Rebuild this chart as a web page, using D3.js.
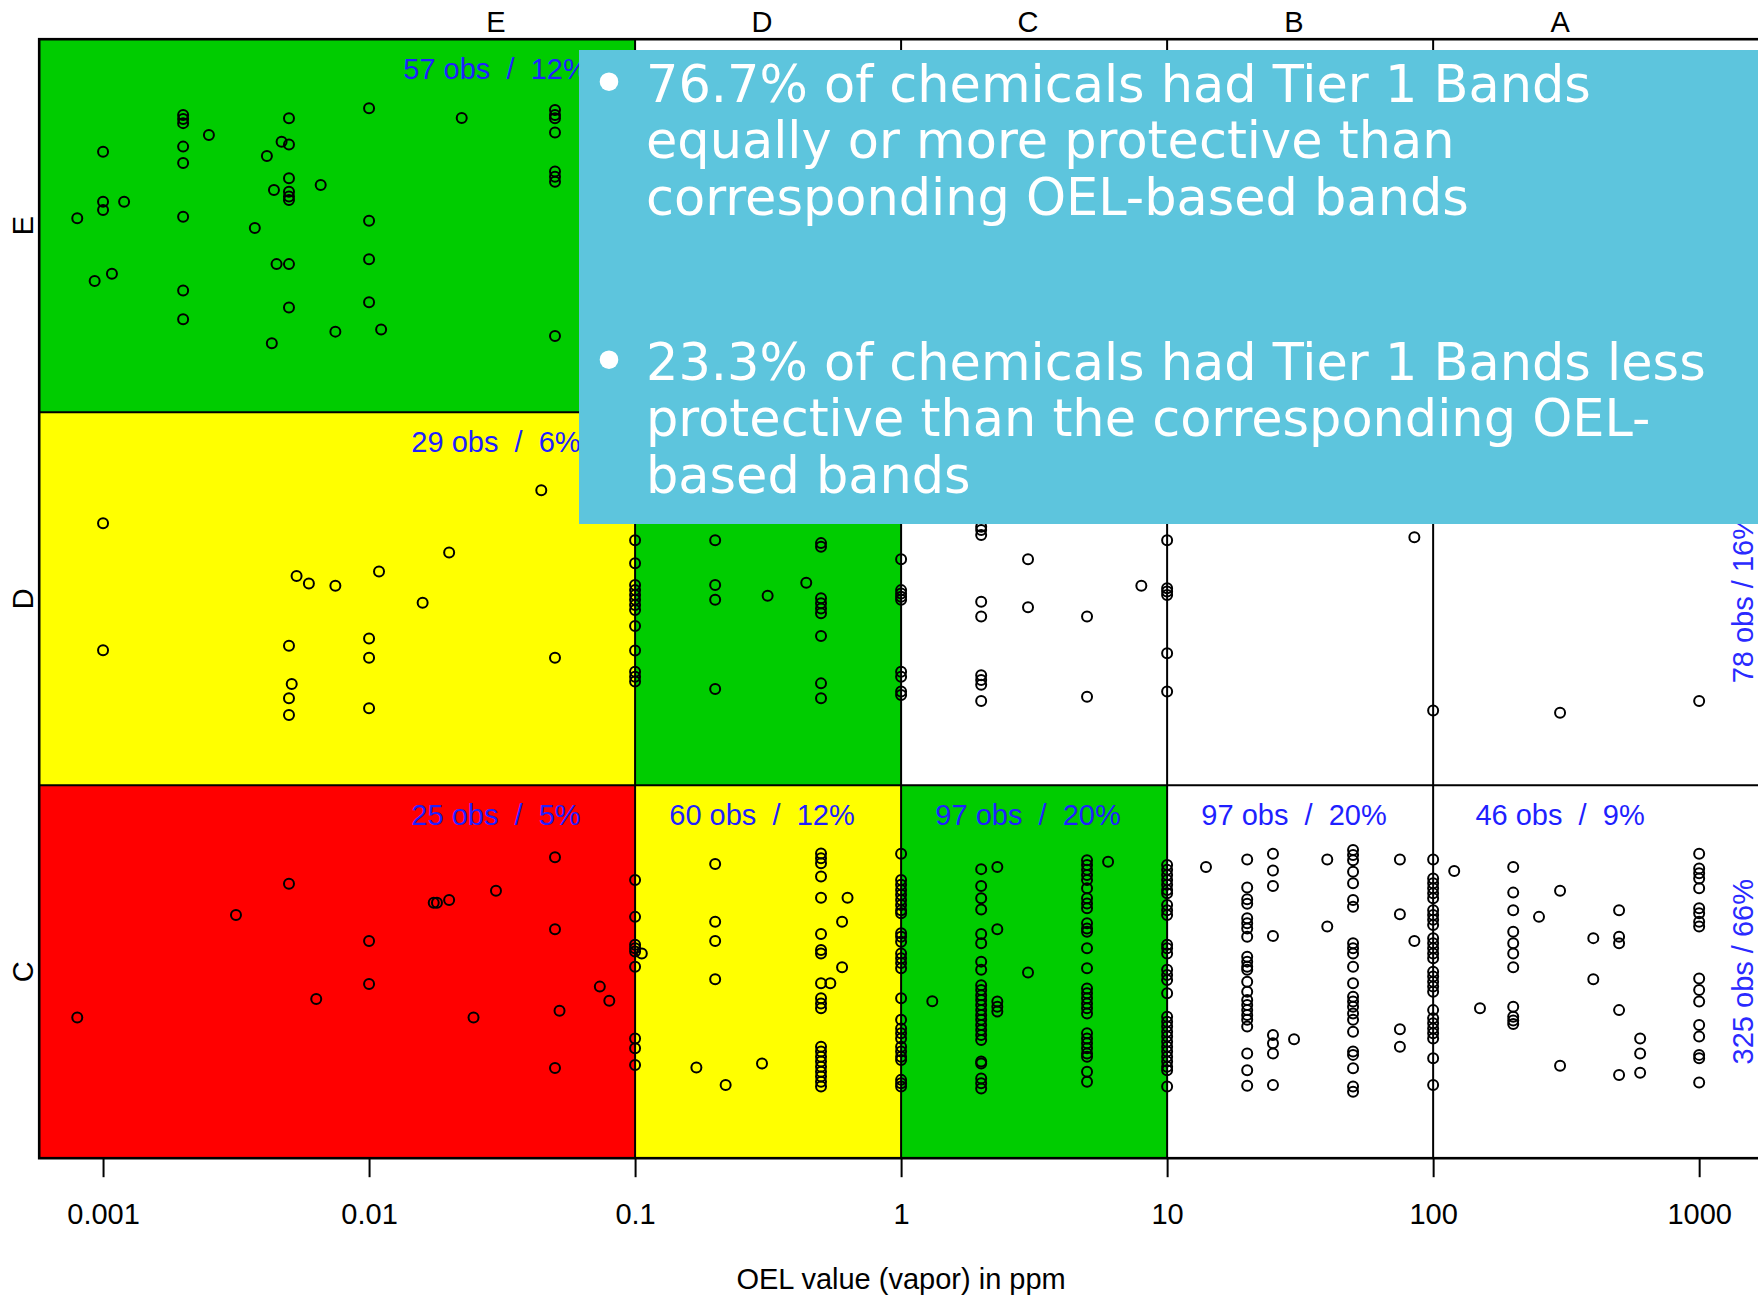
<!DOCTYPE html>
<html><head><meta charset="utf-8">
<script src="https://cdn.jsdelivr.net/npm/d3@7"></script>
<style>
html,body{margin:0;padding:0;background:#fff;overflow:hidden;}
svg{display:block;}
text{white-space:pre;}
</style></head><body>
<svg id="chart" width="1758" height="1297"></svg>
<script>
// ---------------- DATA ----------------
const oelBands = ["E","D","C","B","A"];            // column bands (OEL-based)
const bandLabelX = [0.03, 0.3, 3, 30, 300];        // where band letters sit on top axis
const bandBreaks = [0.1, 1, 10, 100];              // OEL band boundaries (ppm)
const tierBands = ["E","D","C"];                   // Tier 1 band rows (top to bottom)
const tierPos = [3, 2, 1];
const tickValues = [0.001, 0.01, 0.1, 1, 10, 100, 1000];
const tickLabels = ["0.001","0.01","0.1","1","10","100","1000"];
const xTitle = "OEL value (vapor) in ppm";

// cell counts: [tier, oelBand, n, pct]
const cellCounts = [["E","E",57,12],["D","E",29,6],["C","E",25,5],["C","D",60,12],["C","C",97,20],["C","B",97,20],["C","A",46,9]];
// row totals: [tier, n, pct]
const rowTotals = [["D",78,16],["C",325,66]];
const rowTotalX = 1600;

// points: [OEL value, [jittered Tier 1 band positions]]
const pointsE = [
 [0.0008,[3.020]],[0.001,[3.198,3.064,3.042]],[0.00093,[2.852]],[0.00108,[2.871]],[0.0012,[3.064]],
 [0.002,[3.297,3.286,3.275,3.212,3.168,3.024,2.826,2.749]],[0.0025,[3.243]],[0.00372,[2.994]],
 [0.00413,[3.187]],[0.00431,[2.685]],[0.00439,[3.096]],[0.00449,[2.897]],[0.00469,[3.225]],
 [0.005,[3.288,3.218,3.127,3.091,3.078,3.069,2.897,2.781]],[0.00658,[3.109]],[0.00747,[2.716]],
 [0.01,[3.315,3.013,2.910,2.795]],[0.0111,[2.722]],[0.0223,[3.289]],
 [0.05,[3.310,3.297,3.288,3.250,3.145,3.131,3.118,2.704]]
];
const pointsD = [
 [0.001,[2.202,1.862]],[0.005,[1.874,1.733,1.688]],[0.00512,[1.771]],[0.00534,[2.061]],[0.00594,[2.041]],
 [0.00747,[2.035]],[0.01,[1.893,1.842,1.706]],[0.0109,[2.073]],[0.0159,[1.989]],[0.02,[2.124]],
 [0.0444,[2.291]],[0.05,[1.842]],
 [0.1,[2.157,2.095,2.037,2.023,2.010,1.997,1.983,1.970,1.927,1.861,1.804,1.791,1.778]],
 [0.2,[2.157,2.037,1.997,1.758]],[0.315,[2.008]],[0.44,[2.043]],
 [0.5,[2.149,2.139,2.001,1.988,1.974,1.961,1.900,1.773,1.733]],
 [1,[2.106,2.023,2.014,2.005,1.997,1.804,1.791,1.751,1.742]],
 [2,[2.193,2.184,2.171,1.992,1.952,1.795,1.782,1.769,1.726]],
 [3,[2.106,1.977]],[5,[1.952,1.737]],[8,[2.035]],
 [10,[2.157,2.028,2.019,2.010,1.854,1.751]],
 [85,[2.165]],[100,[1.700]],[300,[1.694]],[1000,[1.726]]
];
const pointsC = [
 [0.0008,[0.877]],[0.00316,[1.152]],[0.005,[1.236]],[0.00633,[0.927]],[0.01,[1.082,0.967]],
 [0.0175,[1.185]],[0.018,[1.185]],[0.02,[1.192]],[0.0247,[0.877]],[0.03,[1.217]],
 [0.05,[1.307,1.114,0.742]],[0.052,[0.895]],[0.0737,[0.960]],[0.08,[0.922]],
 [0.1,[1.246,1.147,1.072,1.063,1.054,1.013,0.821,0.795,0.750]],[0.106,[1.049]],
 [0.17,[0.743]],[0.2,[1.289,1.134,1.082,0.980]],[0.219,[0.696]],[0.3,[0.754]],
 [0.5,[1.317,1.304,1.291,1.255,1.198,1.101,1.058,1.049,0.969,0.929,0.915,0.902,0.799,0.786,0.772,0.759,0.745,0.732,0.719,0.705,0.692]],
 [0.542,[0.969]],[0.6,[1.134,1.012]],[0.629,[1.198]],
 [1,[1.316,1.246,1.233,1.219,1.206,1.192,1.179,1.165,1.157,1.103,1.094,1.080,1.049,1.036,1.023,1.009,0.929,0.871,0.848,0.835,0.821,0.799,0.786,0.772,0.763,0.710,0.701,0.692]],
 [1.31,[0.921]],
 [2,[1.275,1.230,1.197,1.167,1.101,1.076,1.027,1.005,0.964,0.951,0.937,0.924,0.911,0.897,0.884,0.871,0.857,0.844,0.830,0.817,0.759,0.754,0.714,0.701,0.687]],
 [2.3,[1.281,1.114,0.920,0.906,0.893]],[3,[0.998]],
 [5,[1.299,1.286,1.273,1.259,1.246,1.224,1.197,1.183,1.170,1.130,1.116,1.107,1.063,1.009,0.955,0.942,0.929,0.915,0.902,0.888,0.835,0.821,0.808,0.795,0.781,0.772,0.732,0.705]],
 [6,[1.295]],
 [10,[1.286,1.273,1.259,1.246,1.233,1.219,1.210,1.179,1.165,1.152,1.072,1.063,1.049,1.005,0.991,0.978,0.942,0.879,0.866,0.853,0.839,0.826,0.812,0.799,0.786,0.772,0.759,0.745,0.736,0.692]],
 [14,[1.281]],
 [20,[1.301,1.226,1.194,1.182,1.143,1.130,1.116,1.094,1.040,1.027,1.013,1.005,0.973,0.946,0.924,0.911,0.897,0.884,0.871,0.853,0.781,0.736,0.694]],
 [25,[1.316,1.271,1.230,1.096,0.830,0.808,0.781,0.696]],[30,[0.819]],[40,[1.301,1.121]],
 [50,[1.326,1.313,1.299,1.268,1.237,1.192,1.174,1.076,1.063,1.049,1.013,0.969,0.933,0.920,0.906,0.888,0.871,0.839,0.786,0.777,0.741,0.692,0.678]],
 [75,[1.301,1.154,0.846,0.799]],[85,[1.082]],
 [100,[1.301,1.250,1.237,1.224,1.210,1.197,1.165,1.152,1.139,1.125,1.090,1.076,1.063,1.049,1.036,1.000,0.987,0.973,0.960,0.946,0.897,0.875,0.862,0.848,0.835,0.821,0.768,0.696]],
 [120,[1.270]],[150,[0.902]],
 [200,[1.281,1.212,1.165,1.107,1.076,1.049,1.012,0.906,0.879,0.869,0.860]],
 [250,[1.147]],[300,[1.217,0.748]],[400,[1.090,0.980]],
 [500,[1.165,1.094,1.076,0.897,0.723]],[600,[0.821,0.781,0.729]],
 [1000,[1.316,1.277,1.264,1.250,1.224,1.170,1.157,1.134,1.121,0.982,0.951,0.920,0.857,0.826,0.777,0.768,0.703]]
];

const bullet1 = ["76.7% of chemicals had Tier 1 Bands","equally or more protective than","corresponding OEL-based bands"];
const bullet2 = ["23.3% of chemicals had Tier 1 Bands less","protective than the corresponding OEL-","based bands"];

// ---------------- LAYOUT ----------------
const W = 1758, H = 1297;
const plotL = 39.2, plotR = 1763, plotT = 39.2, plotB = 1158.2;
const rFont = "'Liberation Sans', Arial, sans-serif";
const svg = d3.select("#chart");

const x = d3.scaleLog().domain([Math.pow(10,-3.24), Math.pow(10,3.24)]).range([plotL, plotR]);
const y = d3.scaleLinear().domain([0.5, 3.5]).range([plotB, plotT]);

const colEdges = [x.domain()[0], ...bandBreaks, x.domain()[1]];
const cellColor = d => d === 0 ? "#00cc00" : d === 1 ? "#ffff00" : d === 2 ? "#ff0000" : "#ffffff";

// cells
const cells = [];
tierBands.forEach((t, ti) => {
  oelBands.forEach((b, bi) => {
    cells.push({ tier: t, pos: tierPos[ti], x0: colEdges[bi], x1: colEdges[bi+1], diff: ti - bi });
  });
});
svg.append("g").selectAll("rect").data(cells).join("rect")
  .attr("x", d => x(d.x0)).attr("width", d => x(d.x1) - x(d.x0))
  .attr("y", d => y(d.pos + 0.5)).attr("height", d => y(d.pos - 0.5) - y(d.pos + 0.5))
  .attr("fill", d => cellColor(d.diff));

// grid lines
const grid = svg.append("g").attr("stroke", "#000").attr("stroke-width", 2);
grid.selectAll("line.v").data(bandBreaks).join("line").attr("class","v")
  .attr("x1", d => x(d)).attr("x2", d => x(d)).attr("y1", plotT).attr("y2", plotB);
grid.selectAll("line.h").data([1.5, 2.5]).join("line").attr("class","h")
  .attr("x1", plotL).attr("x2", plotR).attr("y1", d => y(d)).attr("y2", d => y(d));

// points
const flat = [];
[pointsE, pointsD, pointsC].forEach(arr => arr.forEach(([v, ys]) => ys.forEach(j => flat.push([v, j]))));
svg.append("g").selectAll("circle").data(flat).join("circle")
  .attr("cx", d => x(d[0])).attr("cy", d => y(d[1])).attr("r", 5)
  .attr("fill", "none").attr("stroke", "#000").attr("stroke-width", 2);

// cell count labels
const tierY = t => tierPos[tierBands.indexOf(t)];
svg.append("g").selectAll("text").data(cellCounts).join("text")
  .attr("x", d => x(bandLabelX[oelBands.indexOf(d[1])]))
  .attr("y", d => y(tierY(d[0]) + 0.5) + 40)
  .attr("text-anchor", "middle").attr("font-family", rFont).attr("font-size", 29)
  .attr("fill", "#1f1fff").attr("xml:space","preserve")
  .text(d => `${d[2]} obs  /  ${d[3]}%`);

// row totals (rotated)
svg.append("g").selectAll("text").data(rowTotals).join("text")
  .attr("transform", d => `translate(${x(rowTotalX)},${y(tierY(d[0]))}) rotate(-90)`)
  .attr("text-anchor", "middle").attr("font-family", rFont).attr("font-size", 29)
  .attr("fill", "#2a2aff")
  .text(d => `${d[1]} obs / ${d[2]}%`);

// border
svg.append("rect").attr("x", plotL).attr("y", plotT).attr("width", plotR - plotL).attr("height", plotB - plotT)
  .attr("fill", "none").attr("stroke", "#000").attr("stroke-width", 2.6);

// bottom axis
const axB = svg.append("g").attr("transform", `translate(0,${plotB})`)
  .call(d3.axisBottom(x).tickValues(tickValues).tickFormat((d, i) => tickLabels[i]).tickSize(19).tickPadding(26));
axB.select(".domain").remove();
axB.selectAll(".tick line").attr("stroke", "#000").attr("stroke-width", 2);
axB.selectAll(".tick text").attr("font-family", rFont).attr("font-size", 29).attr("fill", "#000");

// top band letters
svg.append("g").selectAll("text").data(oelBands).join("text")
  .attr("x", (d, i) => x(bandLabelX[i])).attr("y", plotT - 7)
  .attr("text-anchor", "middle").attr("font-family", rFont).attr("font-size", 29).attr("fill", "#000")
  .text(d => d);

// left tier letters
svg.append("g").selectAll("text").data(tierBands).join("text")
  .attr("transform", (d, i) => `translate(33,${y(tierPos[i])}) rotate(-90)`)
  .attr("text-anchor", "middle").attr("font-family", rFont).attr("font-size", 29).attr("fill", "#000")
  .text(d => d);

// x title
svg.append("text").attr("x", x(1)).attr("y", 1289).attr("text-anchor", "middle")
  .attr("font-family", rFont).attr("font-size", 29).attr("fill", "#000").text(xTitle);

// ---------------- OVERLAY BOX ----------------
const box = svg.append("g");
box.append("rect").attr("x", 579).attr("y", 50).attr("width", W - 579 + 10).attr("height", 474).attr("fill", "#5dc5dd");
const bFont = "'DejaVu Sans', Verdana, sans-serif";
const lineH = 56.6;
const blocks = [{ lines: bullet1, top: 101.7 }, { lines: bullet2, top: 379.7 }];
let fs = 51;
const probe = box.append("text").attr("font-family", bFont).attr("font-size", fs).text(bullet1[0]);
const wMeasured = probe.node().getComputedTextLength();
if (wMeasured > 0) fs = fs * 945 / wMeasured;
probe.remove();
blocks.forEach(b => {
  box.append("circle").attr("cx", 609).attr("cy", b.top - 20).attr("r", 9.3).attr("fill", "#fff");
  b.lines.forEach((ln, i) => {
    box.append("text").attr("x", 646).attr("y", b.top + i * lineH)
      .attr("font-family", bFont).attr("font-size", fs).attr("fill", "#fff").text(ln);
  });
});
</script>
</body></html>
